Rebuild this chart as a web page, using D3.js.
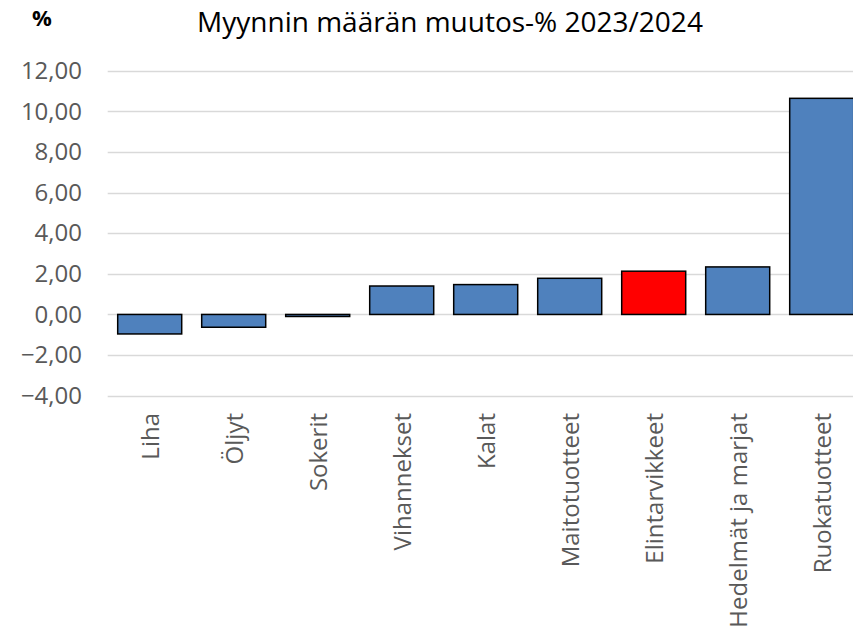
<!DOCTYPE html>
<html>
<head>
<meta charset="utf-8">
<script src="https://cdn.jsdelivr.net/npm/d3@7"></script>
<style>
  body { margin: 0; background: #fff; }
  text { font-family: "Open Sans", sans-serif; }
</style>
</head>
<body>
<script>
const categories = ["Liha", "Öljyt", "Sokerit", "Vihannekset", "Kalat", "Maitotuotteet",
    "Elintarvikkeet", "Hedelmät ja marjat", "Ruokatuotteet"];
const values = [-0.96, -0.63, -0.10, 1.40, 1.47, 1.78, 2.13, 2.34, 10.64];
const highlight = ["Elintarvikkeet"];
const yTicks = [-4, -2, 0, 2, 4, 6, 8, 10, 12];
const titleText = "Myynnin määrän muutos-% 2023/2024";
const unitText = "%";

const svg = d3.select('body')
    .append('svg')
    .attr("width", 853)
    .attr("height", 633);

const x = d3.scaleBand()
    .domain(categories)
    .range([107.7, 863.7])
    .paddingInner(0.238)
    .paddingOuter(0.119);

const y = d3.scaleLinear()
    .domain([-4, 12])
    .range([395.7, 70.7]);

const fmt = d => d3.format(".2f")(d).replace(".", ",");

// gridlines
svg.append('g')
    .selectAll('line')
    .data(yTicks)
    .enter().append('line')
    .attr('x1', 107.7)
    .attr('x2', 863.7)
    .attr('y1', d => Math.round(y(d)) + 0.5)
    .attr('y2', d => Math.round(y(d)) + 0.5)
    .attr('stroke', '#d9d9d9')
    .attr('stroke-width', 1.5);

// y axis labels
const yAxis = d3.axisLeft(y).tickValues(yTicks).tickFormat(fmt).tickSize(0).tickPadding(0);
const yg = svg.append('g')
    .attr('transform', 'translate(82,0)')
    .call(yAxis);
yg.select('.domain').remove();
yg.selectAll('text')
    .attr('fill', '#595959')
    .style('font-size', '24px')
    .style('font-family', '"Open Sans", sans-serif');

// bars
svg.append('g')
    .selectAll('rect')
    .data(categories)
    .enter().append('rect')
    .attr('x', d => x(d))
    .attr('width', x.bandwidth())
    .attr('y', (d, i) => y(Math.max(0, values[i])))
    .attr('height', (d, i) => Math.abs(y(values[i]) - y(0)))
    .attr('fill', d => highlight.includes(d) ? '#ff0000' : '#4f81bd')
    .attr('stroke', '#000')
    .attr('stroke-width', 1.5);

// x labels
svg.append('g')
    .selectAll('text')
    .data(categories)
    .enter().append('text')
    .attr('transform', d => `translate(${x(d) + x.bandwidth() / 2},413) rotate(-90)`)
    .attr('text-anchor', 'end')
    .attr('dominant-baseline', 'central')
    .attr('fill', '#595959')
    .style('font-size', '24px')
    .text(d => d);

// title
svg.append('text')
    .attr('x', 450)
    .attr('y', 32)
    .attr('text-anchor', 'middle')
    .attr('fill', '#000')
    .style('font-size', '28px')
    .text(titleText);

svg.append('text')
    .attr('x', 32)
    .attr('y', 26)
    .attr('fill', '#000')
    .style('font-size', '22px')
    .style('font-weight', 'bold')
    .text(unitText);
</script>
</body>
</html>
